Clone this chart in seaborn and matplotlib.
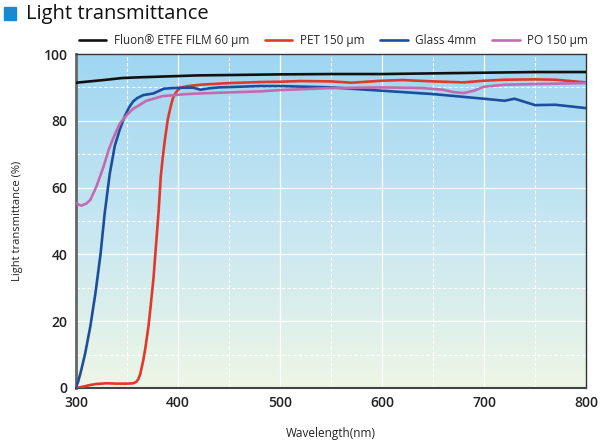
import numpy as np
import pandas as pd
import matplotlib
matplotlib.use("Agg")
import matplotlib.pyplot as plt
import seaborn as sns
from matplotlib.colors import LinearSegmentedColormap
from matplotlib.patches import Rectangle

# ---------------- data ----------------
series_names = ["Fluon® ETFE FILM 60 μm", "PET 150 μm", "Glass 4mm", "PO 150 μm"]
series_colors = ["#111111", "#e2382a", "#1d4e9e", "#c46aae"]

etfe_wl = [300, 310, 327, 345, 360, 380, 400, 420, 450, 500, 550, 600, 650, 700, 750, 800]
etfe_t = [91.4, 91.7, 92.2, 92.8, 93.0, 93.2, 93.4, 93.6, 93.7, 93.9, 94.0, 94.0, 94.2, 94.4, 94.6, 94.6]

pet_wl = [300, 307, 314, 320, 330, 340, 350, 356, 359, 361, 363, 366, 368, 371, 373,
          376, 379, 381, 383, 385, 387, 390, 393, 395, 398, 402, 410, 422, 450, 480,
          500, 520, 550, 570, 600, 620, 650, 680, 700, 720, 750, 770, 800]
pet_t = [0.0, 0.4, 0.9, 1.2, 1.4, 1.3, 1.3, 1.4, 1.8, 2.6, 4.2, 8.4, 12, 18.4, 24,
         33, 45, 53, 63, 69, 74, 80.5, 84.5, 86.8, 88.5, 89.9, 90.4, 90.8, 91.3, 91.6,
         91.7, 91.9, 91.8, 91.4, 92.0, 92.2, 91.8, 91.5, 92.0, 92.3, 92.4, 92.3, 91.5]

glass_wl = [300, 302, 305, 309, 314, 319, 324, 328, 333, 338, 343, 348, 352, 356, 360, 366,
            376, 386, 395, 405, 415, 422, 430, 440, 460, 480, 500, 550, 600, 650, 700,
            720, 730, 750, 770, 800]
glass_t = [0.3, 1.8, 5.2, 10.4, 18.4, 28.3, 40, 52, 64, 72.5, 77.5, 81.5, 84, 85.8, 86.8, 87.7,
           88.2, 89.6, 89.8, 89.9, 89.9, 89.3, 89.7, 90.0, 90.2, 90.4, 90.4, 90.0, 89.0, 88.0, 86.6,
           86.0, 86.6, 84.7, 84.8, 83.8]

po_wl = [300, 305, 310, 314, 320, 327, 332, 337, 343, 350, 356, 360, 369, 385, 408,
         422, 450, 480, 500, 550, 600, 640, 660, 670, 680, 690, 700, 720, 750, 800]
po_t = [55.3, 54.6, 55.2, 56.3, 60.3, 66.3, 71.3, 75.2, 79.2, 81.8, 83.6, 84.3, 86.0, 87.4, 88.0,
        88.2, 88.5, 88.8, 89.2, 89.8, 90.0, 89.8, 89.3, 88.6, 88.3, 89.0, 90.2, 90.8, 91.0, 91.3]

x_ticks = [300, 400, 500, 600, 700, 800]
y_ticks = [0, 20, 40, 60, 80, 100]

frames = []
for name, wl, t in zip(series_names, [etfe_wl, pet_wl, glass_wl, po_wl],
                       [etfe_t, pet_t, glass_t, po_t]):
    frames.append(pd.DataFrame({"Wavelength": wl, "T": t, "Series": name}))
df = pd.concat(frames, ignore_index=True)

# ---------------- plot ----------------
sns.set_style("white")
plt.rcParams["font.family"] = ["Open Sans", "DejaVu Sans"]

fig = plt.figure(figsize=(6.0, 4.43), dpi=100)
ax = fig.add_axes([0.1267, 0.1242, 0.85, 0.7539])

# gradient background
cmap = LinearSegmentedColormap.from_list("bg", ["#eef6e6", "#c6e6f2", "#9fd6f1"])
grad = np.linspace(0, 1, 256).reshape(-1, 1)
ax.imshow(grad, aspect="auto", cmap=cmap, origin="lower",
          extent=[300, 800, 0, 100], zorder=0)

# grid
for xv in range(350, 800, 100):
    ax.axvline(xv, color="white", lw=0.8, ls=(0, (3, 2)), zorder=1)
for xv in range(400, 800, 100):
    ax.axvline(xv, color="white", lw=0.9, zorder=1)
for yv in range(10, 100, 20):
    ax.axhline(yv, color="white", lw=0.8, ls=(0, (3, 2)), zorder=1)
for yv in range(20, 100, 20):
    ax.axhline(yv, color="white", lw=0.9, zorder=1)

sns.lineplot(data=df, x="Wavelength", y="T", hue="Series", hue_order=series_names,
             palette=dict(zip(series_names, series_colors)), estimator=None,
             sort=False, lw=1.9, ax=ax, legend=True, zorder=3)
for ln in ax.get_lines():
    ln.set_solid_joinstyle("round")
    ln.set_solid_capstyle("round")

ax.set_xlim(300, 800)
ax.set_ylim(0, 100)
ax.set_xticks(x_ticks)
ax.set_yticks(y_ticks)
ax.tick_params(axis="both", length=0, labelsize=10, pad=6, colors="#222222")
for lab in ax.get_xticklabels() + ax.get_yticklabels():
    lab.set_fontweight("semibold")
ax.set_xlabel("Wavelength(nm)", fontsize=8.5, labelpad=12, color="#222222",
              fontweight="medium")
ax.set_ylabel("Light transmittance (%)", fontsize=8, labelpad=15, color="#222222",
              fontweight="medium")
for s in ax.spines.values():
    s.set_color("#333333")
    s.set_linewidth(1.0)
ax.spines["left"].set_color("#666666")
ax.spines["left"].set_linewidth(2.0)
ax.spines["bottom"].set_color("#444444")
ax.spines["bottom"].set_linewidth(1.5)

handles, labels = ax.get_legend_handles_labels()
ax.legend(handles, labels, loc="lower center", bbox_to_anchor=(0.505, 1.0),
          ncol=4, frameon=False, fontsize=8.5, handlelength=2.3,
          columnspacing=1.35, handletextpad=0.65, borderaxespad=0.2)

# title with blue square
fig.patches.append(Rectangle((4 / 600, 1 - 20 / 443), 12 / 600, 13 / 443,
                             transform=fig.transFigure, color="#1a8ad0"))
fig.text(26 / 600, 1 - 14 / 443, "Light transmittance", fontsize=14.5,
         va="center", ha="left", color="#111111")

fig.savefig("out.png", dpi=100)
